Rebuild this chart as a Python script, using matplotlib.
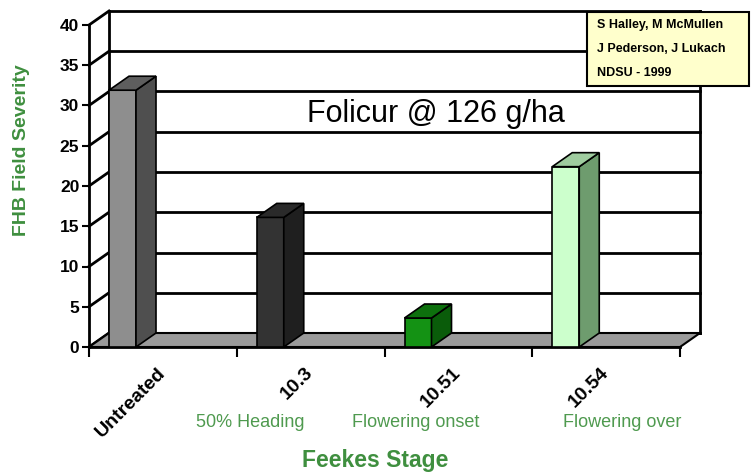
#Imports
import numpy as np
import matplotlib.pyplot as plt
from matplotlib.patches import Polygon, Rectangle

#Data
categories = ["Untreated", "10.3", "10.51", "10.54"]
severity = [31.9, 16.1, 3.6, 22.4]
stage_names = ["50% Heading", "Flowering onset", "Flowering over"]
credits = ["S Halley, M McMullen", "J Pederson, J Lukach", "NDSU - 1999"]

#Colours: front, side, top
bar_colors = [
    ("#8e8e8e", "#4f4f4f", "#5e5e5e"),
    ("#333333", "#1f1f1f", "#2a2a2a"),
    ("#149214", "#0a5c0a", "#0d700d"),
    ("#ccffcc", "#6e9c6e", "#9fcc9f"),
]
green = "#3f8f3f"

#Layout (pixels of a 751x476 figure)
W, H = 751, 476
x0_px, x1_px = 89, 680
y0_px, y1_px = 347, 25
ymax = 40
n = len(categories)
px_x = (x1_px - x0_px) / n
px_y = (y0_px - y1_px) / ymax
dx = 20 / px_x      # depth offset in category units
dy = 14 / px_y      # depth offset in value units
bw = 27 / px_x      # bar width
boff = 20 / px_x    # bar offset from slot start

fig = plt.figure(figsize=(W / 100, H / 100), dpi=100)
ax = fig.add_axes([x0_px / W, 1 - y0_px / H, (x1_px - x0_px) / W, (y0_px - y1_px) / H])
ax.set_xlim(0, n)
ax.set_ylim(0, ymax)
ax.patch.set_visible(False)
for s in ["top", "right"]:
    ax.spines[s].set_visible(False)
ax.spines["left"].set_linewidth(2)
ax.spines["bottom"].set_linewidth(2)

# walls
line_kw = dict(color="black", lw=2, clip_on=False, zorder=1)
for v in range(0, ymax + 1, 5):
    ax.plot([dx, n + dx], [v + dy, v + dy], **line_kw)
    ax.plot([0, dx], [v, v + dy], **line_kw)
ax.plot([dx, dx], [dy, ymax + dy], **line_kw)
ax.plot([n + dx, n + dx], [dy, ymax + dy], **line_kw)

# floor
floor = Polygon([(0, 0), (n, 0), (n + dx, dy), (dx, dy)], closed=True,
                facecolor="#9a9a9a", edgecolor="black", lw=1.5, clip_on=False, zorder=2)
ax.add_patch(floor)

# bars
for i, v in enumerate(severity):
    fc, sc, tc = bar_colors[i]
    x = i + boff
    front = Polygon([(x, 0), (x + bw, 0), (x + bw, v), (x, v)],
                    facecolor=fc, edgecolor="black", lw=1.2, clip_on=False, zorder=3)
    side = Polygon([(x + bw, 0), (x + bw + dx, dy), (x + bw + dx, v + dy), (x + bw, v)],
                   facecolor=sc, edgecolor="black", lw=1.2, clip_on=False, zorder=3)
    top = Polygon([(x, v), (x + bw, v), (x + bw + dx, v + dy), (x + dx, v + dy)],
                  facecolor=tc, edgecolor="black", lw=1.2, clip_on=False, zorder=3)
    for p in (front, side, top):
        ax.add_patch(p)

# axes ticks
ax.set_yticks(range(0, ymax + 1, 5))
ax.set_yticklabels([str(v) for v in range(0, ymax + 1, 5)], fontweight="bold", fontsize=12.5,
                   family="Liberation Sans")
ax.tick_params(axis="y", direction="out", length=5, width=1.5, pad=2)
ax.set_xticks(range(0, n + 1))
ax.set_xticklabels([])
ax.tick_params(axis="x", direction="out", length=7, width=1.5)

# category labels
for i, c in enumerate(categories):
    ax.text(i + 0.5 - 6 / px_x, -17 / px_y, c, rotation=45, ha="right", va="top",
            rotation_mode="anchor", fontsize=14, fontweight="bold", family="Liberation Sans",
            clip_on=False)

# stage names
stage_x = [1.09, 2.21, 3.61]
for sx, name in zip(stage_x, stage_names):
    ax.text(sx, -76 / px_y, name, ha="center", va="center", fontsize=13,
            color="#4f9a4f", family="Liberation Sans")

ax.text(1.94, -114 / px_y, "Feekes Stage", ha="center", va="center", fontsize=16.5,
        fontweight="bold", color=green, family="Liberation Sans")
fig.text(22 / W, 1 - 150 / H, "FHB Field Severity", rotation=90, ha="center", va="center",
         fontsize=14, fontweight="bold", color=green, family="Liberation Sans")

# title
ax.text(2.35, 28.9, "Folicur @ 126 g/ha", ha="center", va="center", fontsize=22,
        family="Liberation Sans", zorder=4)

# credit box
box = Rectangle((587 / W, 1 - 86 / H), (749 - 587) / W, (86 - 12) / H, transform=fig.transFigure,
                facecolor="#ffffcc", edgecolor="black", lw=1.5, zorder=5)
fig.add_artist(box)
for k, t in enumerate(credits):
    fig.text(597 / W, 1 - (25 + 24 * k) / H, t, ha="left", va="center", fontsize=9,
             fontweight="bold", family="Liberation Sans", zorder=6)

plt.savefig("out.png", dpi=100)
